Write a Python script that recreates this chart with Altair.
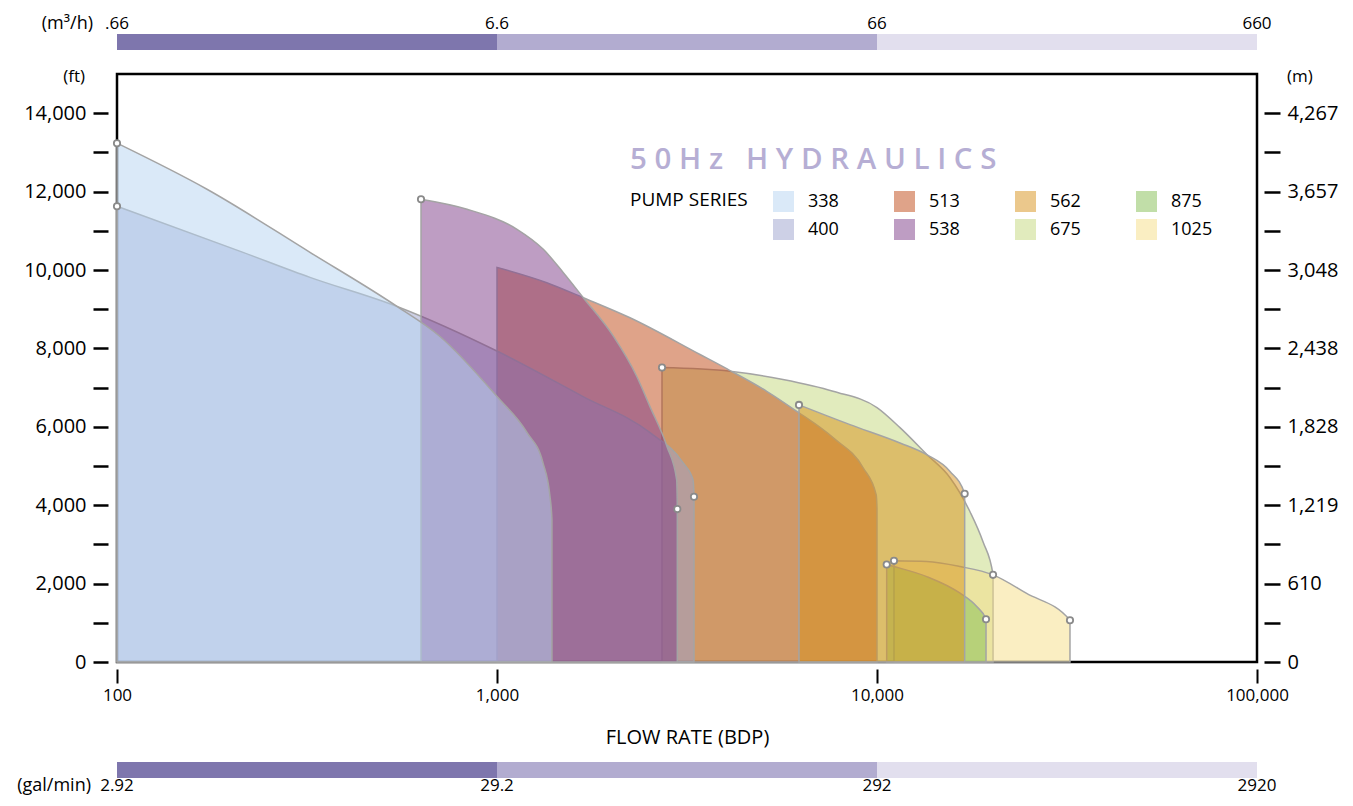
import altair as alt
import pandas as pd

# ---------------- data ----------------
LEGEND_ORDER = ["338", "400", "513", "538", "562", "675", "875", "1025"]
FILL_COLORS = ["#b5d3f1", "#9ba1cd", "#c04814", "#7d3c87",
               "#d8911a", "#c4d87c", "#84bd51", "#f5de85"]
DRAW_ORDER = ["675", "513", "400", "538", "338", "1025", "875", "562"]

Q_338 = [100, 172.5, 322, 545.6, 707.9, 1000, 1200, 1321, 1379, 1395, 1395]
H_338 = [13235, 12060, 10450, 9070, 8304, 6771, 5851, 5084, 4216, 3628, 0]

Q_400 = [100, 214.6, 322, 545.6, 1018, 1684, 2527, 3087, 3280, 3299, 3299]
H_400 = [11625, 10450, 9811, 9070, 7895, 6771, 5851, 5084, 4650, 4216, 0]

Q_513 = [1000, 1352, 1687, 2239, 3422, 4105, 5125, 6149, 7674, 9204, 9950, 10000, 10000]
H_513 = [10067, 9676, 9293, 8782, 7844, 7435, 6906, 6395, 5716, 4949, 4267, 3927, 0]

Q_538 = [631, 834, 1129, 1324, 1495, 1687, 2024, 2331, 2527, 2802, 2970, 2982, 2982]
H_538 = [11804, 11549, 11038, 10527, 9931, 9293, 8311, 7289, 6515, 5493, 4650, 3901, 0]

Q_562 = [6233, 8490, 11495, 13517, 15565, 17010, 17010]
H_562 = [6559, 6055, 5588, 5289, 4862, 4292, 0]

Q_675 = [2718, 4105, 5656, 7660, 10000, 11495, 13542, 15565, 17570, 19010, 20200, 20200]
H_675 = [7510, 7417, 7205, 6906, 6490, 5979, 5289, 4701, 3833, 3066, 2223, 0]

Q_875 = [10605, 11085, 13517, 16540, 18300, 19360, 19360]
H_875 = [2486, 2435, 2179, 1755, 1413, 1091, 0]

Q_1025 = [11085, 13517, 16540, 20200, 24700, 32200, 32200]
H_1025 = [2581, 2563, 2435, 2223, 1755, 1065, 0]

START_DOT = ["338", "400", "538", "562", "675", "875", "1025"]
END_DOT = ["400", "538", "562", "675", "875", "1025"]

X_TICKS = [100, 1000, 10000, 100000]
FT_TICKS = [0, 1000, 2000, 3000, 4000, 5000, 6000, 7000,
            8000, 9000, 10000, 11000, 12000, 13000, 14000]
M_LABELS = ["0", "610", "1,219", "1,828", "2,438", "3,048", "3,657", "4,267"]

SCALE_POS = [100, 1000, 10000, 100000]
M3H_LABELS = [".66", "6.6", "66", "660"]
GPM_LABELS = ["2.92", "29.2", "292", "2920"]
BAND_START = [100, 1000, 10000]
BAND_END = [1000, 10000, 100000]
BAND_COLORS = ["#7e76ad", "#b2acd0", "#e2dfee"]

CURVES = {
    "338": (Q_338, H_338), "400": (Q_400, H_400), "513": (Q_513, H_513),
    "538": (Q_538, H_538), "562": (Q_562, H_562), "675": (Q_675, H_675),
    "875": (Q_875, H_875), "1025": (Q_1025, H_1025),
}

rows = []
for s, (qs, hs) in CURVES.items():
    n = len(qs)
    for i, (q, h) in enumerate(zip(qs, hs)):
        dot = (i == 0 and s in START_DOT) or (i == n - 2 and s in END_DOT)
        rows.append({"series": s, "q": q, "h": h, "dot": dot})
df = pd.DataFrame(rows)

band_df = pd.DataFrame({"start": BAND_START, "end": BAND_END, "c": BAND_COLORS})
lab_df = pd.DataFrame({"pos": SCALE_POS, "m3h": M3H_LABELS, "gpm": GPM_LABELS})

# ---------------- encodings ----------------
W, H = 1140, 588
XS = alt.Scale(type="log", domain=[100, 100000])
YS = alt.Scale(domain=[0, 15000], nice=False)

x_axis = alt.Axis(values=X_TICKS, format=",", grid=False, domain=False,
                  tickSize=14, tickWidth=2, tickColor="black", offset=7,
                  labelFontSize=17, labelPadding=4, labelColor="black",
                  labelFlush=False,
                  title="FLOW RATE (BDP)", titleFontSize=20,
                  titleFontWeight="normal", titleColor="black",
                  titlePadding=24)

left_axis = alt.Axis(values=FT_TICKS, grid=False, domain=False,
                     labelExpr="datum.value % 2000 === 0 ? format(datum.value, ',') : ''",
                     tickSize=15, tickWidth=2.5, tickColor="black", offset=9,
                     labelFontSize=20, labelPadding=7, labelColor="black",
                     title=None)
m_arr = "[" + ",".join("'" + m + "'" for m in M_LABELS) + "]"
right_axis = alt.Axis(orient="right", values=FT_TICKS, grid=False, domain=False,
                      labelExpr="datum.value % 2000 === 0 ? " + m_arr + "[datum.value / 2000] : ''",
                      tickSize=16, tickWidth=2.5, tickColor="black", offset=7,
                      labelFontSize=20, labelPadding=7, labelColor="black",
                      title=None)

cscale = alt.Scale(domain=LEGEND_ORDER, range=FILL_COLORS)
legend = alt.Legend(title="PUMP SERIES", orient="none", legendX=513, legendY=117,
                    columns=4, gridAlign="all", symbolType="square",
                    symbolSize=441, symbolOpacity=0.5, symbolStrokeWidth=0,
                    labelFontSize=18, labelOffset=14, labelColor="black",
                    columnPadding=44, rowPadding=7,
                    titleOrient="left", titleFontSize=19,
                    titleFontWeight="normal", titleColor="black",
                    titlePadding=25, titleBaseline="top", titleAnchor="start",
                    padding=0)

layers = []
for k, s in enumerate(DRAW_ORDER):
    layers.append(
        alt.Chart(df).transform_filter(alt.datum.series == s)
        .mark_area(interpolate="monotone", fillOpacity=0.5,
                   stroke="#a4a4a4", strokeWidth=1.5)
        .encode(
            x=alt.X("q:Q", scale=XS, axis=x_axis),
            y=alt.Y("h:Q", scale=YS, stack=None, axis=left_axis if k == 0 else None),
            color=alt.Color("series:N", scale=cscale, legend=legend if k == 0 else None),
        )
    )

dots = (
    alt.Chart(df).transform_filter(alt.datum.dot == True)
    .mark_point(filled=True, fill="white", stroke="#8a8a8a", strokeWidth=1.8,
                size=40, opacity=1)
    .encode(x=alt.X("q:Q", scale=XS, axis=x_axis),
            y=alt.Y("h:Q", scale=YS, axis=right_axis))
)
layers.append(dots)

top_band = alt.Chart(band_df).mark_rect().encode(
    x=alt.X("start:Q", scale=XS, axis=x_axis), x2="end:Q",
    y=alt.value(-40), y2=alt.value(-24), fill=alt.Fill("c:N", scale=None))
bot_band = alt.Chart(band_df).mark_rect().encode(
    x=alt.X("start:Q", scale=XS, axis=x_axis), x2="end:Q",
    y=alt.value(688), y2=alt.value(704), fill=alt.Fill("c:N", scale=None))
top_lab = alt.Chart(lab_df).mark_text(fontSize=17, baseline="alphabetic", align="center", color="black").encode(
    x=alt.X("pos:Q", scale=XS, axis=x_axis), y=alt.value(-45), text="m3h:N")
bot_lab = alt.Chart(lab_df).mark_text(fontSize=17, baseline="alphabetic", align="center", color="black").encode(
    x=alt.X("pos:Q", scale=XS, axis=x_axis), y=alt.value(717), text="gpm:N")
layers += [top_band, bot_band, top_lab, bot_lab]


def note(text, x, y, align, size, color="black", weight="normal"):
    return alt.Chart(pd.DataFrame({"t": [text]})).mark_text(
        align=align, baseline="alphabetic", fontSize=size, color=color,
        fontWeight=weight).encode(x=alt.value(x), y=alt.value(y), text="t:N")


NB = "\u00a0"
TITLE = "5 0 H z " + NB + " H Y D R A U L I C S"

layers += [
    note("(m³/h)", -24, -45, "right", 18),
    note("(gal/min)", -26, 717, "right", 18),
    note("(ft)", -32, 8, "right", 17),
    note("(m)", 1170, 8, "left", 17),
    note(TITLE, 513, 95, "left", 29.5, "#b6aed4", 600),
]

chart = (
    alt.layer(*layers)
    .resolve_axis(y="independent")
    .properties(width=W, height=H,
                padding={"left": 109, "top": 66, "right": 88, "bottom": 136},
                autosize=alt.AutoSizeParams(type="none"))
    .configure(font="Open Sans")
    .configure_view(stroke="black", strokeWidth=2.5)
)

chart.save("out.html", embed_options={"renderer": "svg", "actions": False})
